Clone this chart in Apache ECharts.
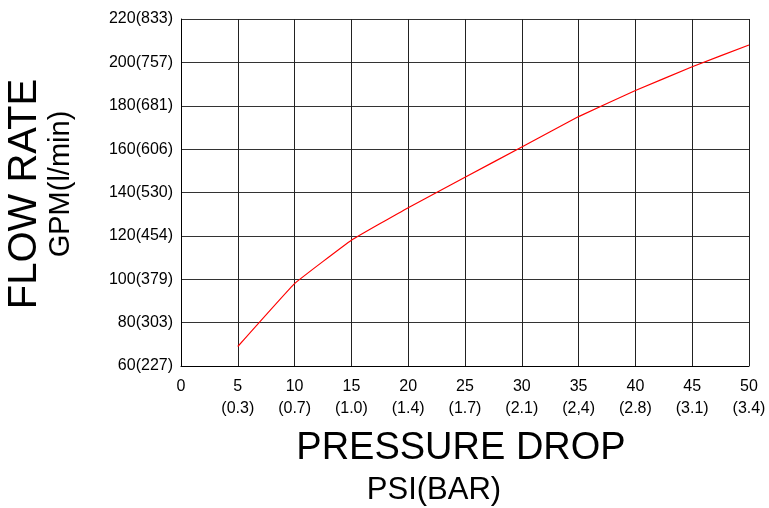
<!DOCTYPE html>
<html>
<head>
<meta charset="utf-8">
<script src="https://cdn.jsdelivr.net/npm/echarts@6/dist/echarts.min.js"></script>
<style>html,body{margin:0;padding:0;background:#fff}#c{width:769px;height:508px}</style>
</head>
<body>
<div id="c"></div>
<script>
var psi = [5, 10, 15, 20, 25, 30, 35, 40, 45, 50];
var gpm = [69, 98, 118, 133, 147, 161, 175, 187, 198, 208];
var xTickValues = [0, 5, 10, 15, 20, 25, 30, 35, 40, 45, 50];
var xTickBar = ['', '(0.3)', '(0.7)', '(1.0)', '(1.4)', '(1.7)', '(2.1)', '(2,4)', '(2.8)', '(3.1)', '(3.4)'];
var yTickValues = [60, 80, 100, 120, 140, 160, 180, 200, 220];
var yTickLpm = ['227', '303', '379', '454', '530', '606', '681', '757', '833'];

var FONT = '"Liberation Sans", Arial, sans-serif';
var chart = echarts.init(document.getElementById('c'), null, {renderer: 'canvas'});
chart.setOption({
  animation: false,
  backgroundColor: '#fff',
  grid: {left: 181, right: 20, top: 19, bottom: 142},
  xAxis: {
    type: 'value', min: 0, max: 50, interval: 5,
    axisLine: {show: true, lineStyle: {color: '#000', width: 1}},
    axisTick: {show: false},
    splitLine: {show: true, lineStyle: {color: '#222', width: 1}},
    axisLabel: {
      color: '#000', fontFamily: FONT, fontSize: 16, lineHeight: 22, margin: 10,
      formatter: function (v) {
        var i = xTickValues.indexOf(v);
        return i > 0 ? v + '\n' + xTickBar[i] : String(v);
      }
    }
  },
  yAxis: {
    type: 'value', min: 60, max: 220, interval: 20,
    axisLine: {show: true, lineStyle: {color: '#000', width: 1}},
    axisTick: {show: false},
    splitLine: {show: true, lineStyle: {color: '#333', width: 1}},
    axisLabel: {
      color: '#000', fontFamily: FONT, fontSize: 16, margin: 8,
      formatter: function (v) {
        var i = yTickValues.indexOf(v);
        return i >= 0 ? v + '(' + yTickLpm[i] + ')' : '';
      }
    }
  },
  series: [{
    type: 'line',
    data: psi.map(function (p, i) { return [p, gpm[i]]; }),
    showSymbol: false, symbol: 'none', smooth: 0.08,
    lineStyle: {color: '#ff0000', width: 1.2}
  }],
  graphic: [
    {type: 'text', x: 461, y: 449, style: {text: 'PRESSURE DROP', font: '38px ' + FONT, fill: '#000', textAlign: 'center', textVerticalAlign: 'middle'}},
    {type: 'text', x: 434, y: 490, style: {text: 'PSI(BAR)', font: '31px ' + FONT, fill: '#000', textAlign: 'center', textVerticalAlign: 'middle'}},
    {type: 'text', x: 25, y: 194, rotation: Math.PI / 2, style: {text: 'FLOW RATE', font: '40px ' + FONT, fill: '#000', textAlign: 'center', textVerticalAlign: 'middle'}},
    {type: 'text', x: 61, y: 184, rotation: Math.PI / 2, style: {text: 'GPM(l/min)', font: '29px ' + FONT, fill: '#000', textAlign: 'center', textVerticalAlign: 'middle'}}
  ]
});
</script>
</body>
</html>
